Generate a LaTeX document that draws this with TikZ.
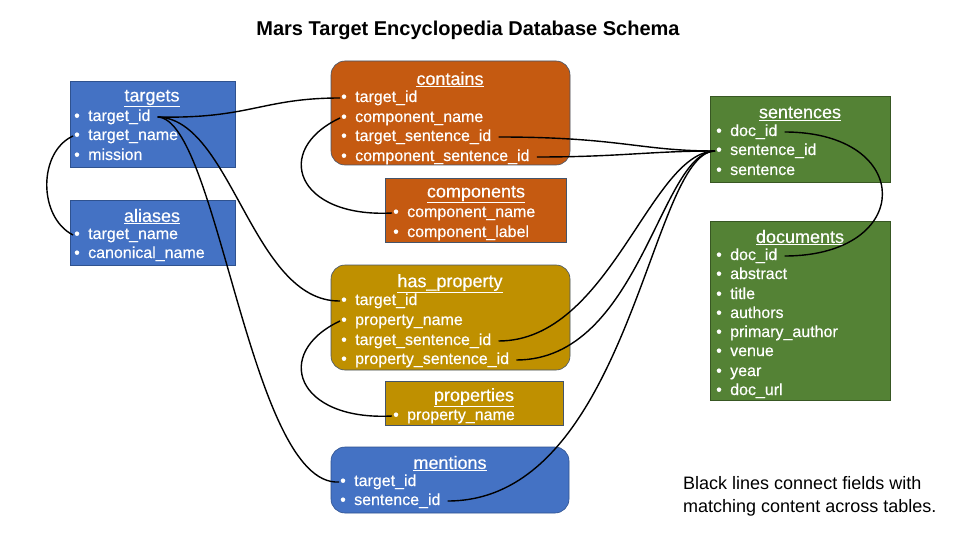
\documentclass[tikz,border=0pt]{standalone}
\usepackage{fontspec}
\setmainfont{Liberation Sans}
\newfontfamily\boxfont[FakeBold=0.4]{Liberation Sans}
\definecolor{bblue}{HTML}{4472C4}
\definecolor{bbluedk}{HTML}{2F528F}
\definecolor{borange}{HTML}{C55A11}
\definecolor{bgold}{HTML}{BF9000}
\definecolor{bgreen}{HTML}{548235}
\definecolor{bgreendk}{HTML}{385723}
\definecolor{edgegray}{HTML}{44546A}
\tikzset{
  tbl/.style={draw=edgegray, line width=0.6pt, inner sep=0pt},
  rtbl/.style={tbl, rounded corners=14pt},
  fld/.style={anchor=west, inner xsep=1pt, inner ysep=0pt, text=white,
    font=\boxfont\fontsize{16}{19}\selectfont, text height=11pt, text depth=3pt},
  ttl/.style={inner sep=0pt, text=white, font=\boxfont\fontsize{18}{20}\selectfont},
  link/.style={line width=1.4pt, black},
}
\newcommand{\fitem}[1]{\makebox[14pt][l]{•}#1}
\newcommand{\ttltext}[1]{\underline{#1}}
\begin{document}
\begin{tikzpicture}[x=1pt,y=-1pt]
\useasboundingbox (0,0) rectangle (960,540);
\fill[white] (0,0) rectangle (960,540);

\node[font=\fontsize{20}{22}\selectfont\bfseries] (title) at (468,30) {Mars Target Encyclopedia Database Schema};

% ---------- boxes ----------
\node[tbl, fill=bblue, draw=bbluedk, minimum width=165pt, minimum height=86pt] (targetsbox) at (152.5,124) {};
\node[tbl, fill=bblue, draw=bbluedk, minimum width=165pt, minimum height=65pt] (aliasesbox) at (152.5,232.5) {};
\node[rtbl, fill=borange, minimum width=239pt, minimum height=104pt] (containsbox) at (450.5,113) {};
\node[tbl, fill=borange, minimum width=181pt, minimum height=64pt] (componentsbox) at (475.5,210) {};
\node[rtbl, fill=bgold, minimum width=239pt, minimum height=105pt] (hpbox) at (450.5,317.5) {};
\node[tbl, fill=bgold, minimum width=178pt, minimum height=44pt] (propsbox) at (474,403) {};
\node[rtbl, fill=bblue, draw=bbluedk, minimum width=238pt, minimum height=66pt] (mentionsbox) at (450,480) {};
\node[tbl, fill=bgreen, draw=bgreendk, minimum width=180pt, minimum height=86pt] (sentbox) at (800,139) {};
\node[tbl, fill=bgreen, draw=bgreendk, minimum width=180pt, minimum height=179pt] (docbox) at (800,310.5) {};

% ---------- targets ----------
\node[ttl] (t-title) at (152,98.5) {\ttltext{targets}};
\node[fld] (t-id) at (73,117) {\fitem{target\_id}};
\node[fld] (t-name) at (73,136) {\fitem{target\_name}};
\node[fld] (t-mission) at (73,156) {\fitem{mission}};

% ---------- aliases ----------
\node[ttl] (a-title) at (152,216.5) {\ttltext{aliases}};
\node[fld] (a-name) at (73,235) {\fitem{target\_name}};
\node[fld] (a-canon) at (73,254) {\fitem{canonical\_name}};

% ---------- contains ----------
\node[ttl] (c-title) at (450,79.5) {\ttltext{contains}};
\node[fld] (c-tid) at (340,98) {\fitem{target\_id}};
\node[fld] (c-cname) at (340,118) {\fitem{component\_name}};
\node[fld] (c-tsid) at (340,137) {\fitem{target\_sentence\_id}};
\node[fld] (c-csid) at (340,157) {\fitem{component\_sentence\_id}};

% ---------- components ----------
\node[ttl] (co-title) at (476,194.5) {\ttltext{components}};
\node[fld] (co-name) at (392,213) {\fitem{component\_name}};
\node[fld] (co-label) at (392,233) {\fitem{component\_label}};

% ---------- has_property ----------
\node[ttl] (h-title) at (450,283.5) {\ttltext{has\_property}};
\node[fld] (h-tid) at (340,301) {\fitem{target\_id}};
\node[fld] (h-pname) at (340,321) {\fitem{property\_name}};
\node[fld] (h-tsid) at (340,341) {\fitem{target\_sentence\_id}};
\node[fld] (h-psid) at (340,360) {\fitem{property\_sentence\_id}};

% ---------- properties ----------
\node[ttl] (p-title) at (474,397.5) {\ttltext{properties}};
\node[fld] (p-name) at (392,416) {\fitem{property\_name}};

% ---------- mentions ----------
\node[ttl] (m-title) at (450,463.5) {\ttltext{mentions}};
\node[fld] (m-tid) at (339,482) {\fitem{target\_id}};
\node[fld] (m-sid) at (339,501) {\fitem{sentence\_id}};

% ---------- sentences ----------
\node[ttl] (s-title) at (800,113.5) {\ttltext{sentences}};
\node[fld] (s-doc) at (715,132) {\fitem{doc\_id}};
\node[fld] (s-sid) at (715,151) {\fitem{sentence\_id}};
\node[fld] (s-sent) at (715,171) {\fitem{sentence}};

% ---------- documents ----------
\node[ttl] (d-title) at (800,237.5) {\ttltext{documents}};
\node[fld] (d-doc) at (715,256) {\fitem{doc\_id}};
\node[fld] (d-abs) at (715,275) {\fitem{abstract}};
\node[fld] (d-title) at (715,295) {\fitem{title}};
\node[fld] (d-auth) at (715,314) {\fitem{authors}};
\node[fld] (d-pa) at (715,333) {\fitem{primary\_author}};
\node[fld] (d-venue) at (715,352) {\fitem{venue}};
\node[fld] (d-year) at (715,372) {\fitem{year}};
\node[fld] (d-url) at (715,391) {\fitem{doc\_url}};

% ---------- note ----------
\node[anchor=north west, inner sep=0pt, align=left, font=\fontsize{18}{23}\selectfont] (note) at (683,476) {Black lines connect fields with\\matching content across tables.};

% ---------- connectors ----------
\draw[link] ([xshift=6pt]t-id.east) .. controls (250,119) and (262,98) .. (c-tid.west);
\draw[link] ([xshift=6pt]t-id.east) .. controls (232,119) and (252,302) .. (h-tid.west);
\draw[link] ([xshift=6pt]t-id.east) .. controls (218,119) and (250,487) .. (m-tid.west);
\draw[link] (t-name.west) .. controls (38,152) and (38,217) .. (a-name.west);
\draw[link] (c-cname.west) .. controls (272,150) and (296,218) .. (co-name.west);
\draw[link] (h-pname.west) .. controls (272,353) and (296,421) .. (p-name.west);
\draw[link] ([xshift=6pt]c-tsid.east) .. controls (620,137) and (640,151) .. (s-sid.west);
\draw[link] ([xshift=6pt]c-csid.east) .. controls (620,157) and (650,151) .. (s-sid.west);
\draw[link] ([xshift=6pt]h-tsid.east) .. controls (610,341) and (650,152) .. (s-sid.west);
\draw[link] ([xshift=6pt]h-psid.east) .. controls (640,360) and (660,152) .. (s-sid.west);
\draw[link] ([xshift=6pt]m-sid.east) .. controls (630,501) and (650,152) .. (s-sid.west);
\draw[link] ([xshift=6pt]s-doc.east) .. controls (915,132) and (915,256) .. ([xshift=6pt]d-doc.east);
\end{tikzpicture}
\end{document}
